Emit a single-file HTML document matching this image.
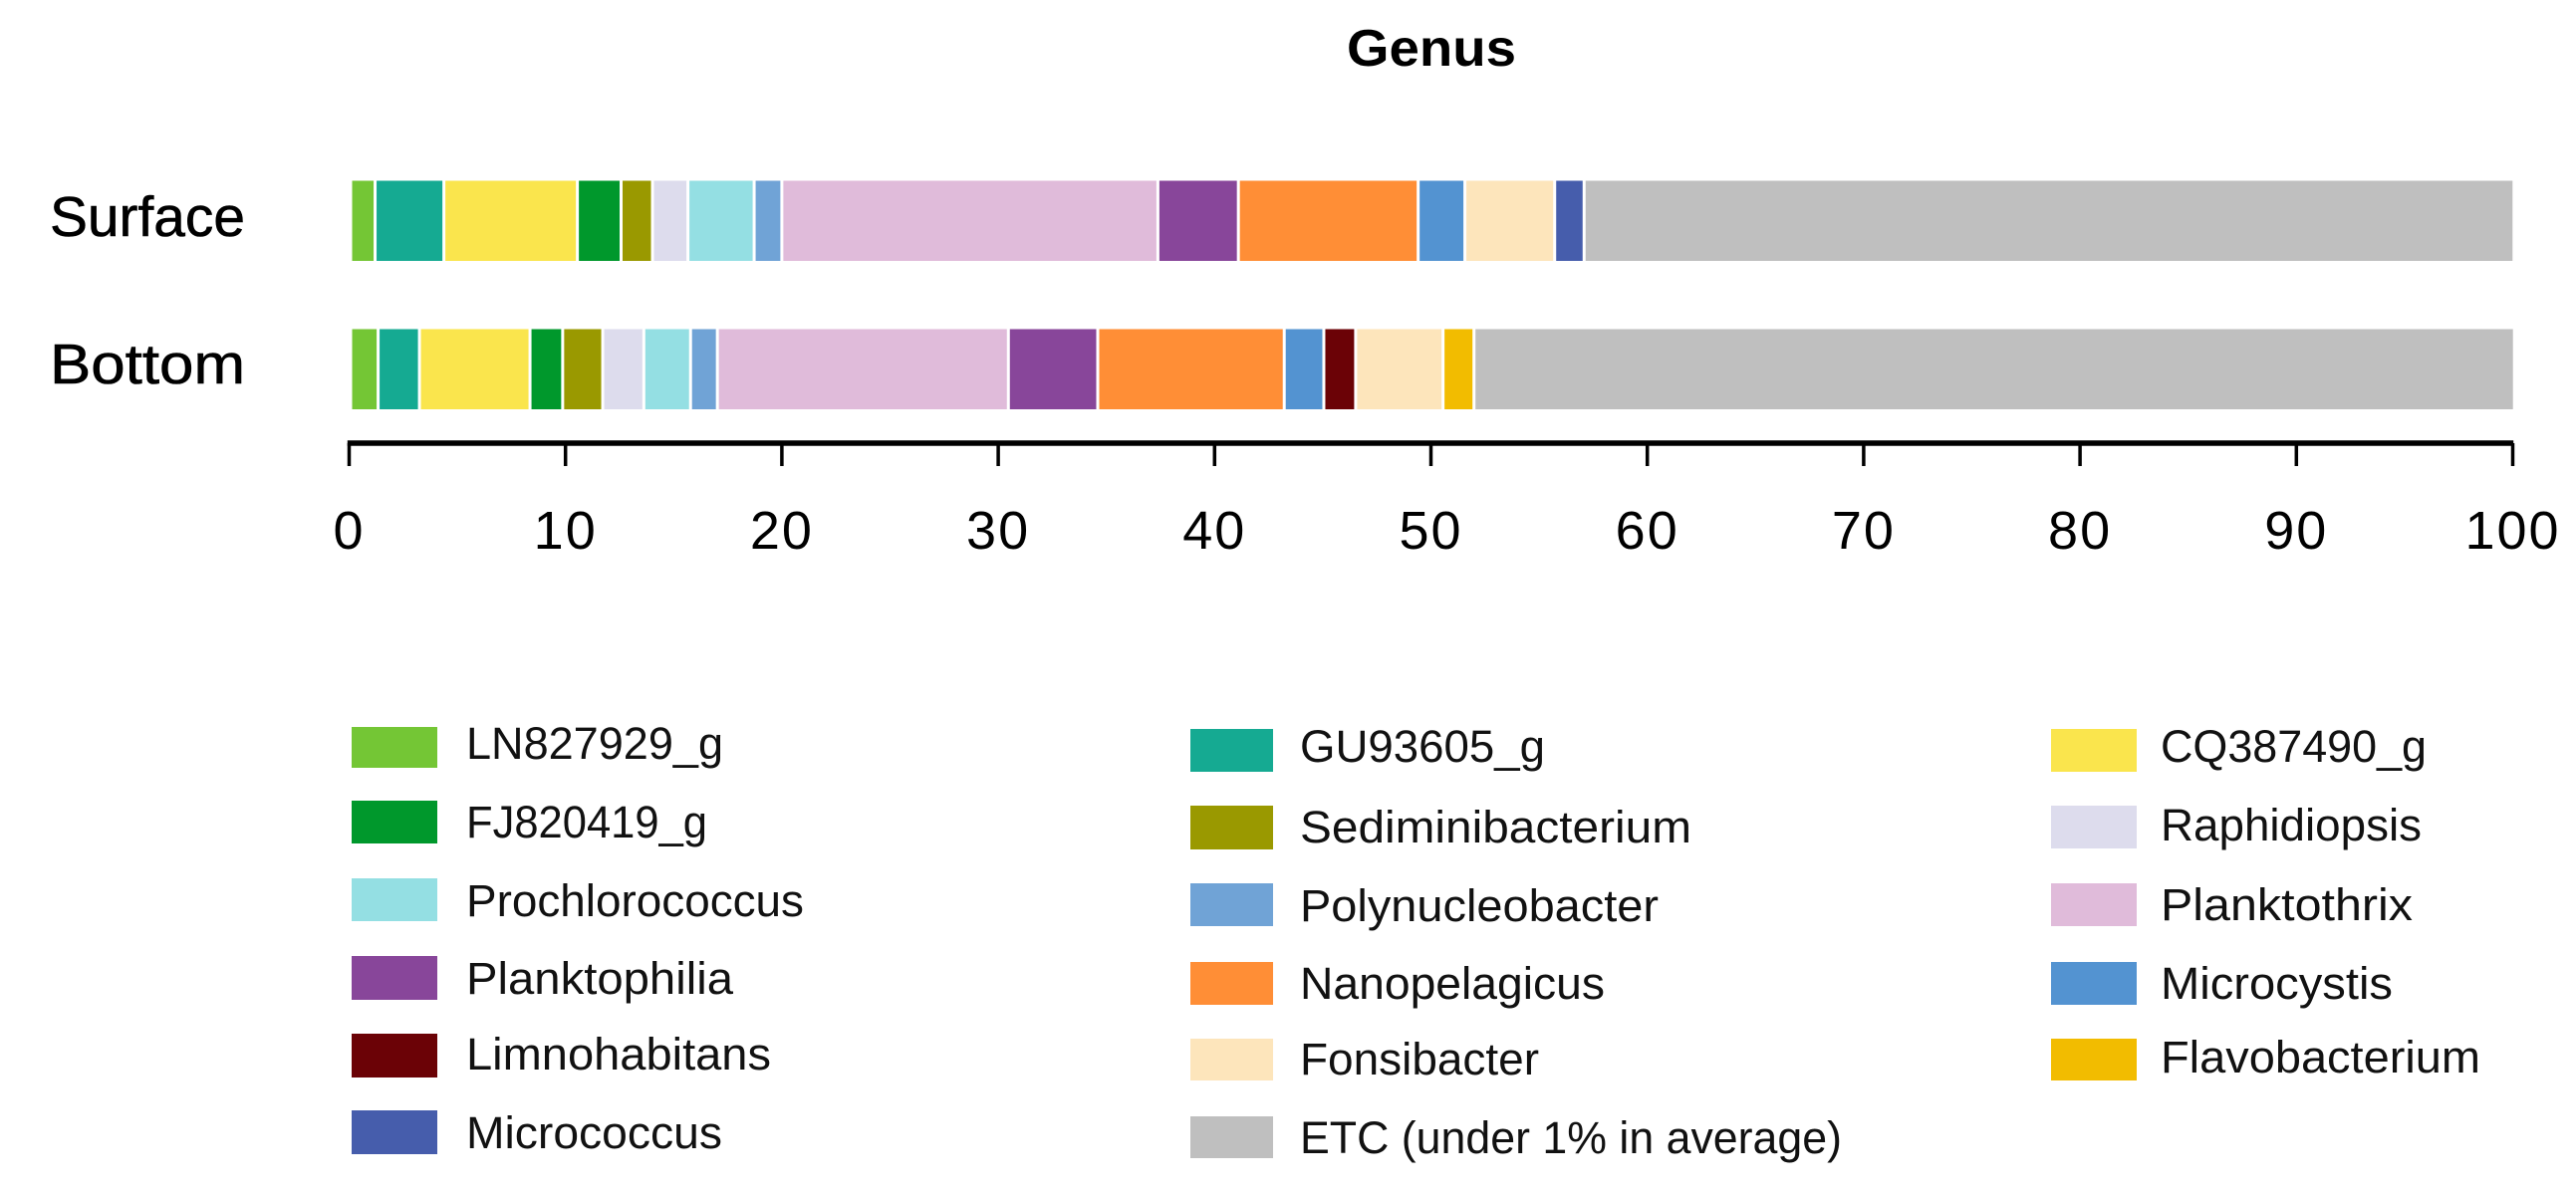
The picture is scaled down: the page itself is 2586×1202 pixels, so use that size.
<!DOCTYPE html>
<html lang="en">
<head>
<meta charset="utf-8">
<title>Genus composition</title>
<style>
html,body{margin:0;padding:0;background:#fff;}
svg{display:block;font-family:"Liberation Sans",sans-serif;fill:#000;}
.leg{font-size:45px;fill:#111;}
</style>
</head>
<body>
<svg id="chart" xmlns="http://www.w3.org/2000/svg" width="2586" height="1202" viewBox="0 0 2586 1202">
  <rect x="0" y="0" width="2586" height="1202" fill="#fff"/>
  <text x="1352" y="66" font-size="52" font-weight="bold" textLength="170" lengthAdjust="spacingAndGlyphs">Genus</text>
  <g id="bars"></g>
  <g id="axis"></g>
  <g id="cats"></g>

  <g>
    <g><rect x="353" y="730" width="86" height="41" fill="#74c635"/><text class="leg" x="468" y="762" textLength="258" lengthAdjust="spacingAndGlyphs">LN827929_g</text></g>
    <g><rect x="353" y="804" width="86" height="43" fill="#00982c"/><text class="leg" x="468" y="841" textLength="242" lengthAdjust="spacingAndGlyphs">FJ820419_g</text></g>
    <g><rect x="353" y="882" width="86" height="43" fill="#94dfe3"/><text class="leg" x="468" y="920" textLength="339" lengthAdjust="spacingAndGlyphs">Prochlorococcus</text></g>
    <g><rect x="353" y="960" width="86" height="44" fill="#88469a"/><text class="leg" x="468" y="998" textLength="268" lengthAdjust="spacingAndGlyphs">Planktophilia</text></g>
    <g><rect x="353" y="1038" width="86" height="44" fill="#6b0206"/><text class="leg" x="468" y="1074" textLength="306" lengthAdjust="spacingAndGlyphs">Limnohabitans</text></g>
    <g><rect x="353" y="1115" width="86" height="44" fill="#465dac"/><text class="leg" x="468" y="1153" textLength="257" lengthAdjust="spacingAndGlyphs">Micrococcus</text></g>

    <g><rect x="1195" y="732" width="83" height="43" fill="#15aa92"/><text class="leg" x="1305" y="765" textLength="246" lengthAdjust="spacingAndGlyphs">GU93605_g</text></g>
    <g><rect x="1195" y="809" width="83" height="44" fill="#9a9900"/><text class="leg" x="1305" y="846" textLength="393" lengthAdjust="spacingAndGlyphs">Sediminibacterium</text></g>
    <g><rect x="1195" y="887" width="83" height="43" fill="#70a3d6"/><text class="leg" x="1305" y="925" textLength="360" lengthAdjust="spacingAndGlyphs">Polynucleobacter</text></g>
    <g><rect x="1195" y="966" width="83" height="43" fill="#ff8e36"/><text class="leg" x="1305" y="1003" textLength="306" lengthAdjust="spacingAndGlyphs">Nanopelagicus</text></g>
    <g><rect x="1195" y="1043" width="83" height="42" fill="#fde5bb"/><text class="leg" x="1305" y="1079" textLength="240" lengthAdjust="spacingAndGlyphs">Fonsibacter</text></g>
    <g><rect x="1195" y="1121" width="83" height="42" fill="#bfbfbf"/><text class="leg" x="1305" y="1158" textLength="544" lengthAdjust="spacingAndGlyphs">ETC (under 1% in average)</text></g>

    <g><rect x="2059" y="732" width="86" height="43" fill="#fae54d"/><text class="leg" x="2169" y="765" textLength="267" lengthAdjust="spacingAndGlyphs">CQ387490_g</text></g>
    <g><rect x="2059" y="809" width="86" height="43" fill="#dddced"/><text class="leg" x="2169" y="844" textLength="262" lengthAdjust="spacingAndGlyphs">Raphidiopsis</text></g>
    <g><rect x="2059" y="887" width="86" height="43" fill="#e0bbda"/><text class="leg" x="2169" y="924" textLength="253" lengthAdjust="spacingAndGlyphs">Planktothrix</text></g>
    <g><rect x="2059" y="966" width="86" height="43" fill="#5393d1"/><text class="leg" x="2169" y="1003" textLength="233" lengthAdjust="spacingAndGlyphs">Microcystis</text></g>
    <g><rect x="2059" y="1043" width="86" height="42" fill="#f2bc00"/><text class="leg" x="2169" y="1077" textLength="321" lengthAdjust="spacingAndGlyphs">Flavobacterium</text></g>
  </g>
</svg>
<script>
const categories = ["Surface", "Bottom"];
const seriesNames = ["LN827929_g","GU93605_g","CQ387490_g","FJ820419_g","Sediminibacterium","Raphidiopsis","Prochlorococcus","Polynucleobacter","Planktothrix","Planktophilia","Nanopelagicus","Microcystis","Limnohabitans","Fonsibacter","Flavobacterium","Micrococcus","ETC"];
const surfaceValues = [1.13,3.18,6.17,2.02,1.45,1.64,3.06,1.28,17.38,3.72,8.31,2.16,0,4.15,0,1.36,42.98];
const bottomValues = [1.27,1.91,5.11,1.51,1.85,1.90,2.16,1.24,13.45,4.13,8.62,1.83,1.47,4.04,1.43,0,48.09];
const tickValues = [0,10,20,30,40,50,60,70,80,90,100];
const seriesColors = ["#74c635","#15aa92","#fae54d","#00982c","#9a9900","#dddced","#94dfe3","#70a3d6","#e0bbda","#88469a","#ff8e36","#5393d1","#6b0206","#fde5bb","#f2bc00","#465dac","#bfbfbf"];

const NS = "http://www.w3.org/2000/svg";
const xAxisMin = 0, xAxisMax = 100, plotLeft = 352, plotRight = 2524;
function x(v){ return plotLeft + (v - xAxisMin) / (xAxisMax - xAxisMin) * (plotRight - plotLeft); }
function bandTop(i){ return 181.5 + i * 149; }
const bandHeight = 80.5;
const gap = 3;

function make(tag, attrs, parent){
  const e = document.createElementNS(NS, tag);
  for (const k in attrs) e.setAttribute(k, attrs[k]);
  parent.appendChild(e);
  return e;
}

const barsG = document.getElementById("bars");
const sampleValues = [surfaceValues, bottomValues];
categories.forEach(function(cat, c){
  let acc = 0;
  sampleValues[c].forEach(function(v, s){
    const start = acc;
    acc += v;
    if (v <= 0) return;
    const r = make("rect", {
      x: x(start) + gap / 2,
      y: bandTop(c),
      width: Math.max(0, x(acc) - x(start) - gap),
      height: bandHeight,
      fill: seriesColors[s]
    }, barsG);
    
    
    const title = make("title", {}, r);
    title.textContent = cat + " " + seriesNames[s] + ": " + v;
  });
});

const axisG = document.getElementById("axis");
const axisLine = make("line", {x1: x(0) - 3.2, x2: x(100) - 0.8, y1: 445, y2: 445, stroke: "#000", "stroke-width": 5.5}, axisG);


tickValues.forEach(function(t){
  const tx = x(t) - 1.5;
  const tick = make("line", {x1: tx, x2: tx, y1: 445, y2: 468, stroke: "#000", "stroke-width": 3.5}, axisG);
  
  
  const lab = make("text", {x: tx, y: 551, "font-size": 54, "text-anchor": "middle", "letter-spacing": 2}, axisG);
  
  
  lab.textContent = String(t);
});

const catsG = document.getElementById("cats");
categories.forEach(function(cat, c){
  const lab = make("text", {x: 50, y: bandTop(c) + 55.5 - c * 1, "font-size": 57, textLength: 196, lengthAdjust: "spacingAndGlyphs", stroke: "#000", "stroke-width": 0.6}, catsG);
  
  
  lab.textContent = cat;
});
</script>
</body>
</html>
